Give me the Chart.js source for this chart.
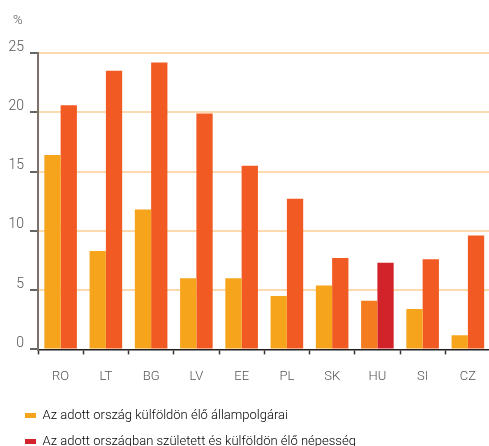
<!DOCTYPE html>
<html>
<head>
<meta charset="utf-8">
<script src="https://cdn.jsdelivr.net/npm/chart.js@4"></script>
<style>
  html, body { margin: 0; padding: 0; background: #fff; overflow: hidden; }
  #wrap { position: relative; width: 491px; height: 458px; }
</style>
</head>
<body>
<div id="wrap"><canvas id="myChart"></canvas></div>
<script>
const categories = ["RO", "LT", "BG", "LV", "EE", "PL", "SK", "HU", "SI", "CZ"];
const citizensAbroad = [16.4, 8.3, 11.8, 6.0, 6.0, 4.5, 5.4, 4.1, 3.4, 1.2];
const bornAbroad = [20.6, 23.5, 24.2, 19.9, 15.5, 12.7, 7.7, 7.3, 7.6, 9.6];
const yTicks = [0, 5, 10, 15, 20, 25];
const unitLabel = "%";
const seriesNames = [
  "Az adott ország külföldön élő állampolgárai",
  "Az adott országban született és külföldön élő népesség",
];

const FONT = "Roboto, sans-serif";
const TEXT = "#555";

// HU is highlighted with darker shades
const orangeColors = categories.map((c) => (c === "HU" ? "#F47B20" : "#F7A41D"));
const redColors = categories.map((c) => (c === "HU" ? "#D2232A" : "#F15A22"));

// "%" unit above the y axis + push the legend a bit to the right
const unitPlugin = {
  id: "unitLabel",
  beforeDraw(chart) {
    chart.legend.left = 12;
  },
  afterDraw(chart) {
    const c = chart.ctx;
    c.save();
    c.font = "300 13px " + FONT;
    c.fillStyle = TEXT;
    c.textAlign = "left";
    c.textBaseline = "middle";
    c.fillText(unitLabel, 13, 21);
    c.restore();
  },
};

const ctx = document.getElementById("myChart").getContext("2d");

const chart = new Chart(ctx, {
  type: "bar",
  data: {
    labels: categories,
    datasets: [
      {
        label: seriesNames[0],
        data: citizensAbroad,
        backgroundColor: orangeColors,
        categoryPercentage: 0.72,
        barPercentage: 1.0,
      },
      {
        label: seriesNames[1],
        data: bornAbroad,
        backgroundColor: redColors,
        categoryPercentage: 0.72,
        barPercentage: 1.0,
      },
    ],
  },
  plugins: [unitPlugin],
  options: {
    responsive: true,
    maintainAspectRatio: false,
    animation: false,
    layout: {
      padding: { left: 0, right: 0, top: 53, bottom: 0 },
    },
    plugins: {
      tooltip: { enabled: false },
      legend: {
        display: true,
        position: "bottom",
        align: "start",
        labels: {
          color: TEXT,
          font: { family: FONT, size: 13, weight: 300 },
          boxWidth: 11,
          boxHeight: 5,
          padding: 13,
          generateLabels: () => [
            { text: seriesNames[0], fillStyle: "#F7A41D", strokeStyle: "#F7A41D", lineWidth: 0, datasetIndex: 0 },
            { text: seriesNames[1], fillStyle: "#D2232A", strokeStyle: "#D2232A", lineWidth: 0, datasetIndex: 1 },
          ],
        },
      },
    },
    scales: {
      x: {
        grid: {
          display: true,
          drawOnChartArea: false,
          offset: true,
          tickLength: 5,
          tickColor: "#333",
          tickWidth: 1.5,
        },
        border: { color: "#231F20", width: 1.5 },
        ticks: {
          color: TEXT,
          font: { family: FONT, size: 13, weight: 300 },
          padding: 15,
        },
        afterFit: (scale) => {
          scale.height -= 4;
        },
      },
      y: {
        min: 0,
        max: 25,
        afterBuildTicks: (scale) => {
          scale.ticks = yTicks.map((v) => ({ value: v }));
        },
        grid: {
          color: (c) => (c.tick && c.tick.value === 0 ? "rgba(0,0,0,0)" : "#FDD9AE"),
          lineWidth: 2,
          tickLength: 8,
          tickColor: "#333",
          tickWidth: 1.5,
        },
        border: { color: "#7D7068", width: 2 },
        ticks: {
          color: TEXT,
          font: { family: FONT, size: 14, weight: 300 },
          padding: 6,
          labelOffset: -6,
        },
        afterFit: (scale) => {
          scale.width = 38;
        },
      },
    },
  },
});
</script>
</body>
</html>
